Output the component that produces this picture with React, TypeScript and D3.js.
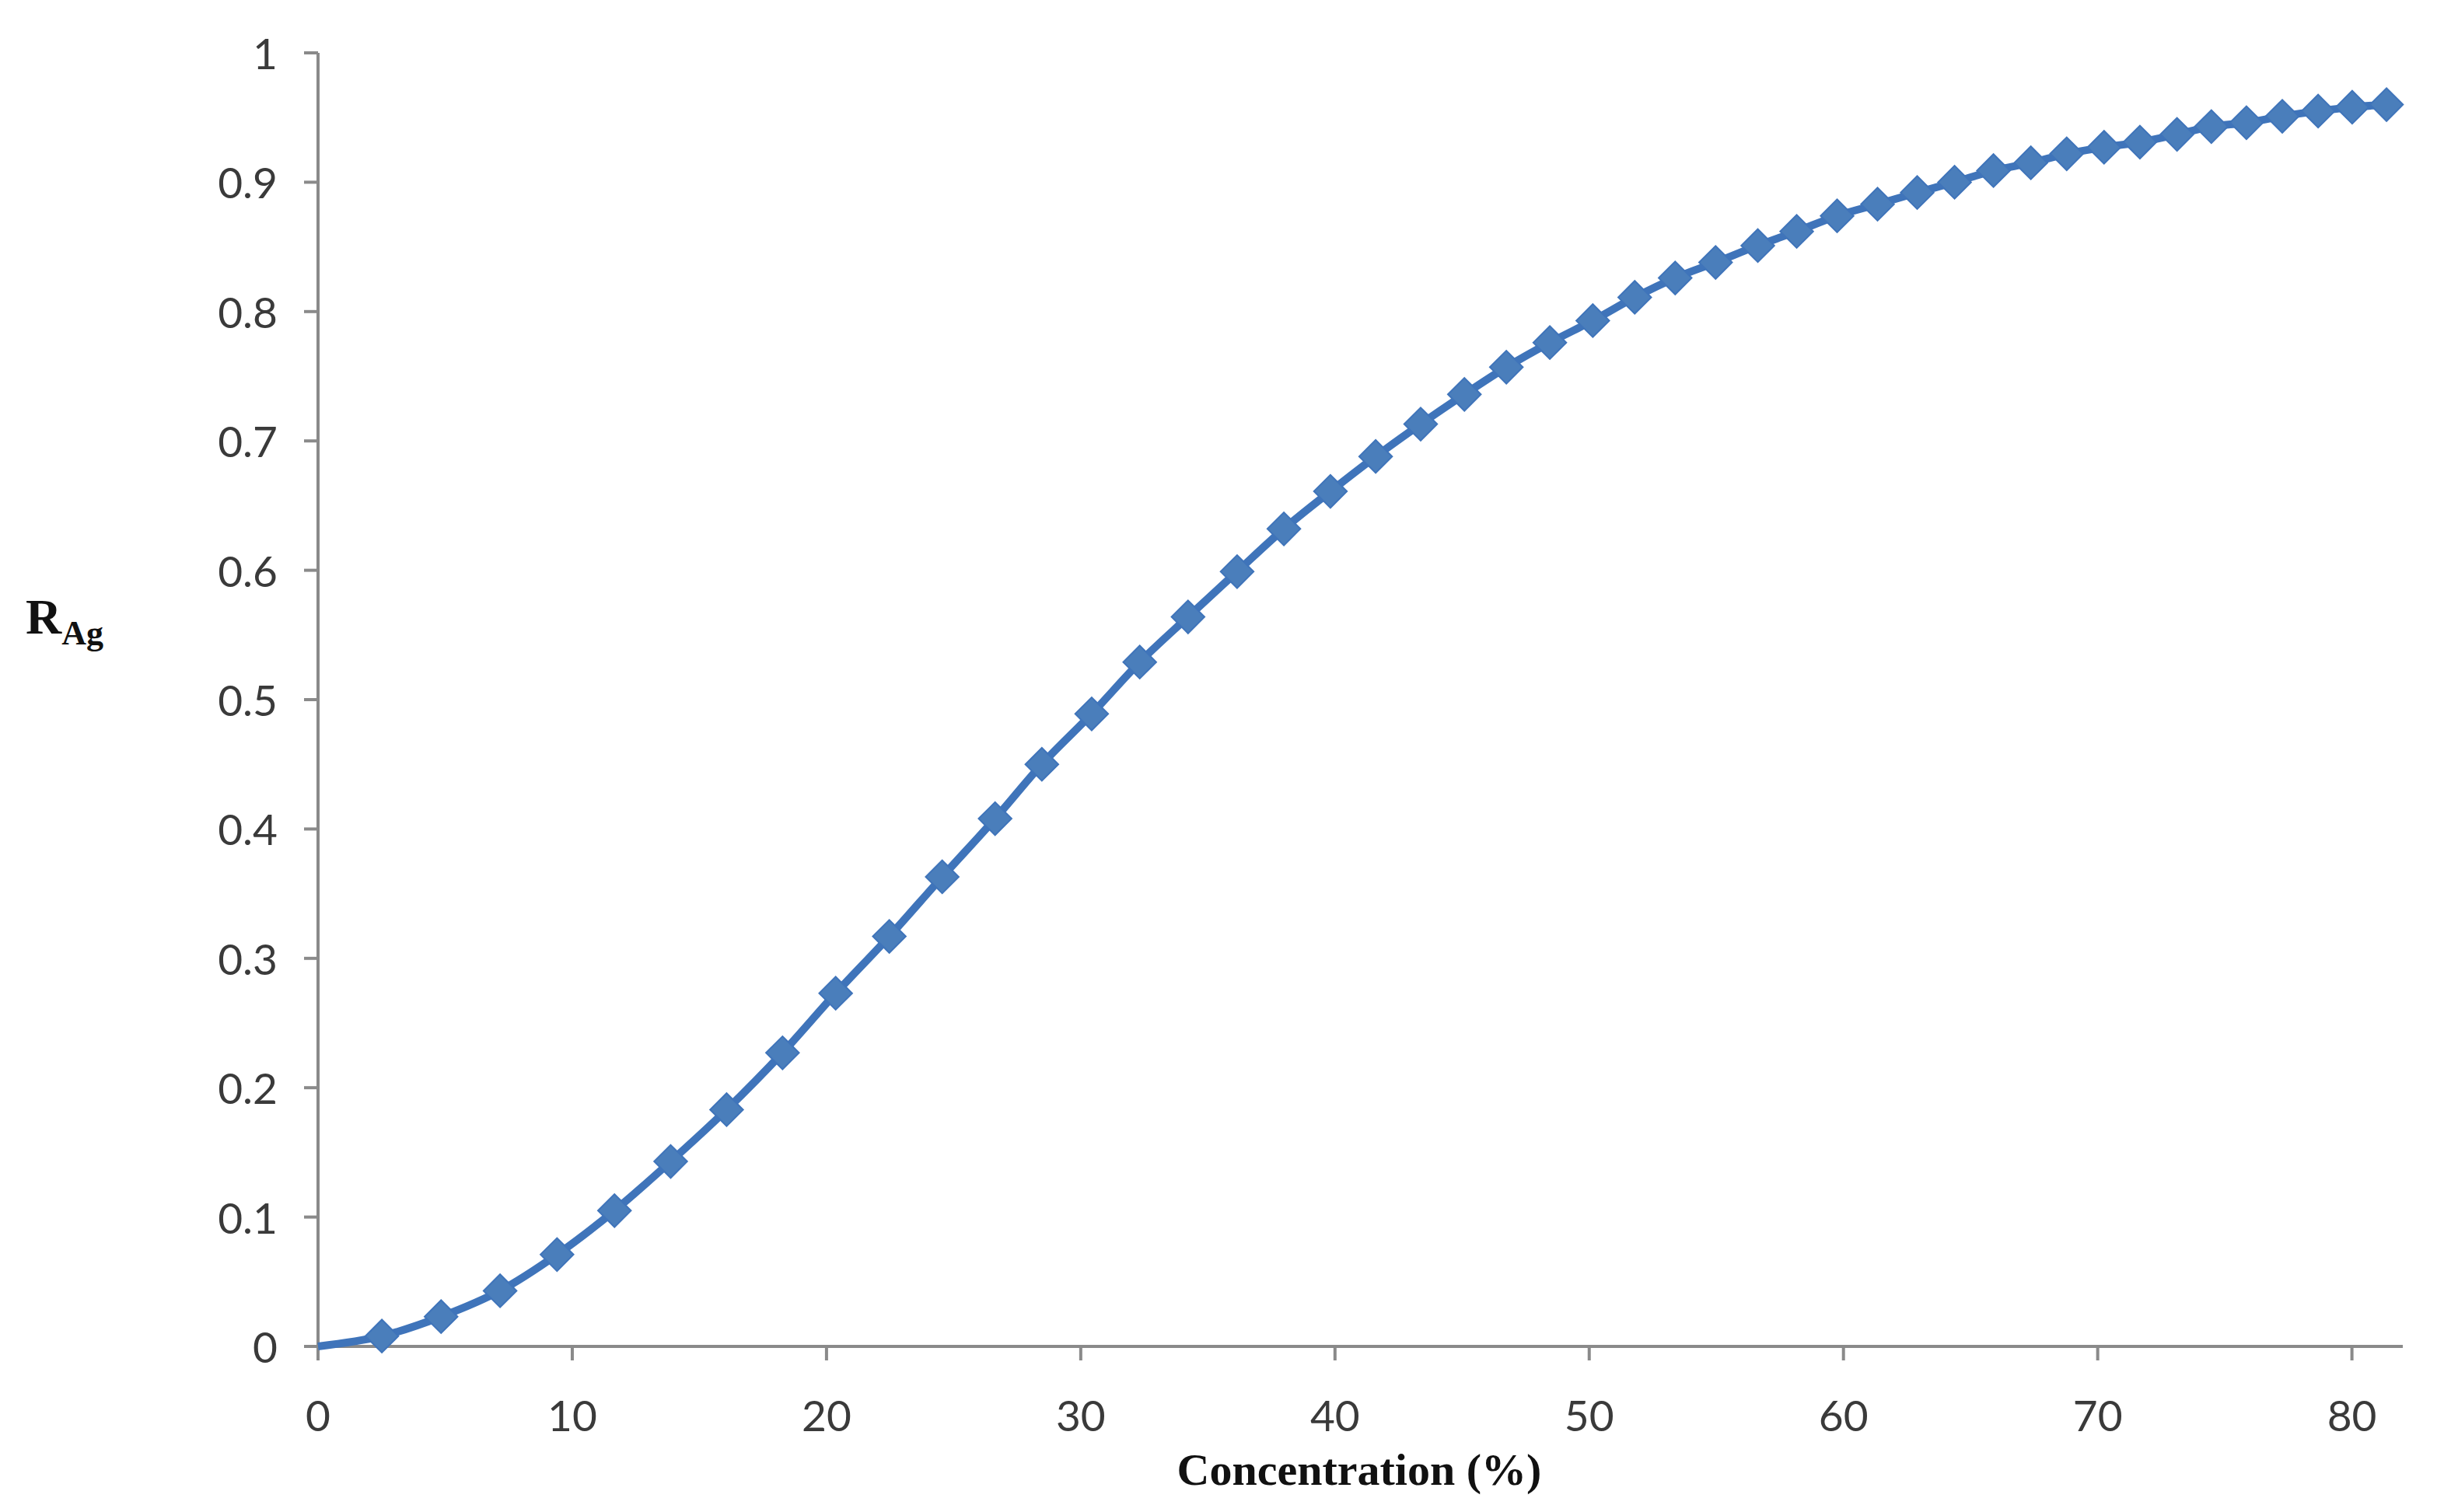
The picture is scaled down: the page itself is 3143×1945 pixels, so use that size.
import React from "react";
import * as d3 from "d3";

const concentration: number[] = [
  0, 2.51, 4.84, 7.16, 9.4, 11.66, 13.87, 16.07, 18.27, 20.36, 22.47, 24.55, 26.63, 28.47,
  30.43, 32.32, 34.22, 36.15, 37.99, 39.82, 41.6, 43.37, 45.09, 46.74, 48.45, 50.14, 51.79,
  53.38, 54.97, 56.63, 58.16, 59.75, 61.34, 62.9, 64.37, 65.9, 67.37, 68.78, 70.25, 71.66,
  73.12, 74.47, 75.85, 77.26, 78.67, 80.01, 81.36,
];

const rAg: number[] = [
  0, 0.008, 0.023, 0.043, 0.071, 0.105, 0.143, 0.183, 0.227, 0.273, 0.317, 0.363, 0.408, 0.45,
  0.489, 0.529, 0.564, 0.599, 0.632, 0.661, 0.688, 0.713, 0.736, 0.757, 0.776, 0.793, 0.811,
  0.826, 0.838, 0.851, 0.862, 0.874, 0.883, 0.892, 0.9, 0.909, 0.915, 0.922, 0.927, 0.931,
  0.937, 0.943, 0.946, 0.951, 0.955, 0.958, 0.96,
];

const xTicks: number[] = [0, 10, 20, 30, 40, 50, 60, 70, 80];
const yTicks: number[] = [0, 0.1, 0.2, 0.3, 0.4, 0.5, 0.6, 0.7, 0.8, 0.9, 1];
const yTickLabels: string[] = ["0", "0.1", "0.2", "0.3", "0.4", "0.5", "0.6", "0.7", "0.8", "0.9", "1"];
const xDomain: [number, number] = [0, 82];
const yDomain: [number, number] = [0, 1];

const W = 3143;
const H = 1945;
const M = { left: 409, right: 3090, top: 68, bottom: 1732 };

export default function App() {
  const x = d3.scaleLinear().domain(xDomain).range([M.left, M.right]);
  const y = d3.scaleLinear().domain(yDomain).range([M.bottom, M.top]);
  const pts = concentration.map((c, i) => [c, rAg[i]] as [number, number]);
  const line = d3
    .line<[number, number]>()
    .x((d) => x(d[0]))
    .y((d) => y(d[1]))
    .curve(d3.curveMonotoneX);
  const diamond = d3.symbol().type(d3.symbolSquare).size(900)() as string;
  const axisColor = "#8a8a8a";
  const tickFont = "Lato, 'Open Sans', sans-serif";
  const serif = "'Liberation Serif', 'DejaVu Serif', serif";

  return (
    <svg
      width={W}
      height={H}
      style={{ position: "absolute", left: 0, top: 0, display: "block", background: "#fff" }}
    >
      <rect x={0} y={0} width={W} height={H} fill="#fff" />
      {/* y axis */}
      <line x1={x(0)} x2={x(0)} y1={y(1)} y2={y(0) + 18} stroke={axisColor} strokeWidth={4} />
      {yTicks.map((t, i) => (
        <g key={"yt" + i}>
          <line x1={x(0) - 18} x2={x(0)} y1={y(t)} y2={y(t)} stroke={axisColor} strokeWidth={4} />
          <text
            x={x(0) - 52}
            y={y(t)}
            textAnchor="end"
            dominantBaseline="central"
            fontFamily={tickFont}
            fontSize={55}
            fill="#3a3a3a"
          >
            {yTickLabels[i]}
          </text>
        </g>
      ))}
      {/* x axis */}
      <line x1={x(0) - 18} x2={x(xDomain[1])} y1={y(0)} y2={y(0)} stroke={axisColor} strokeWidth={4} />
      {xTicks.map((t) => (
        <g key={"xt" + t}>
          <line x1={x(t)} x2={x(t)} y1={y(0)} y2={y(0) + 18} stroke={axisColor} strokeWidth={4} />
          <text
            x={x(t)}
            y={1820}
            textAnchor="middle"
            dominantBaseline="central"
            fontFamily={tickFont}
            fontSize={55}
            fill="#3a3a3a"
          >
            {t}
          </text>
        </g>
      ))}
      {/* series */}
      <path d={line(pts) || ""} fill="none" stroke="#3f74ba" strokeWidth={10} strokeLinejoin="round" />
      {pts.slice(1).map((p, i) => (
        <path
          key={"m" + i}
          d={diamond}
          transform={`translate(${x(p[0])},${y(p[1])}) rotate(45)`}
          fill="#4a7ebb"
          stroke="#3f74ba"
          strokeWidth={2}
        />
      ))}
      {/* axis titles */}
      <text
        x={1748}
        y={1910}
        textAnchor="middle"
        fontFamily={serif}
        fontWeight="bold"
        fontSize={58}
        fill="#111"
      >
        Concentration (%)
      </text>
      <text x={33} y={815} fontFamily={serif} fontWeight="bold" fontSize={64} fill="#111">
        R
        <tspan fontSize={44} dy={14}>
          Ag
        </tspan>
      </text>
    </svg>
  );
}
